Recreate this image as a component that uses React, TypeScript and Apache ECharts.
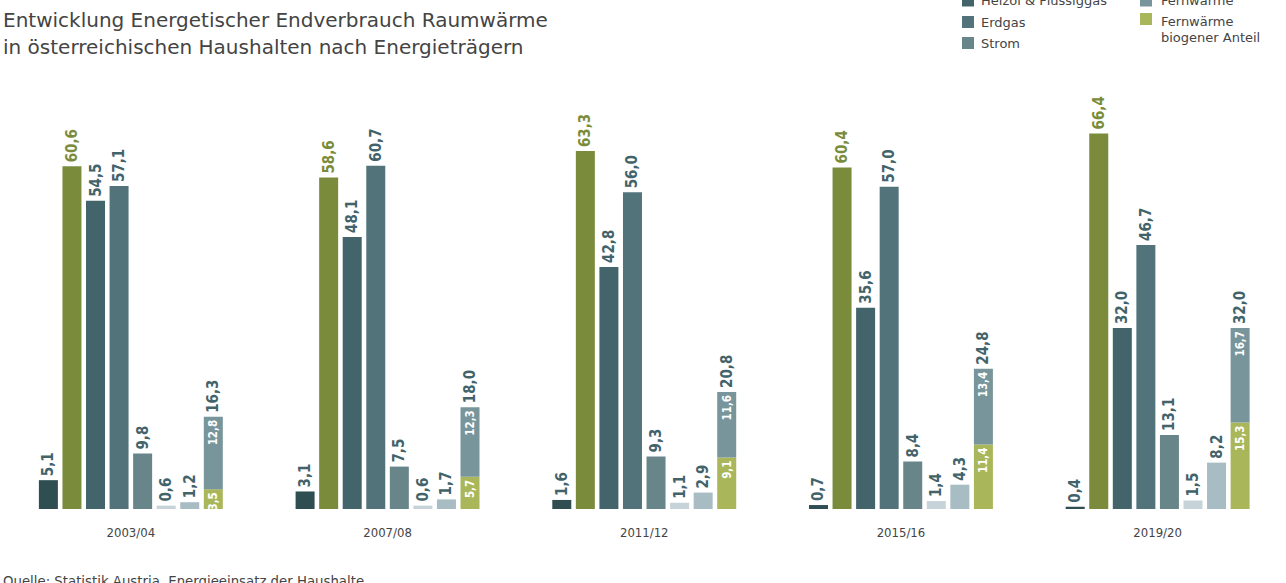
import React, { useEffect, useRef } from 'react';
import * as echarts from 'echarts';

const categories = ['2003/04', '2007/08', '2011/12', '2015/16', '2019/20'];
const kohle = [5.1, 3.1, 1.6, 0.7, 0.4];
const holz = [60.6, 58.6, 63.3, 60.4, 66.4];
const heizoel = [54.5, 48.1, 42.8, 35.6, 32.0];
const erdgas = [57.1, 60.7, 56.0, 57.0, 46.7];
const strom = [9.8, 7.5, 9.3, 8.4, 13.1];
const solar = [0.6, 0.6, 1.1, 1.4, 1.5];
const umgebung = [1.2, 1.7, 2.9, 4.3, 8.2];
const fwBiogen = [3.5, 5.7, 9.1, 11.4, 15.3];
const fwRest = [12.8, 12.3, 11.6, 13.4, 16.7];
const fwTotal = [16.3, 18.0, 20.8, 24.8, 32.0];

const titleLines = [
  'Entwicklung Energetischer Endverbrauch Raumwärme',
  'in österreichischen Haushalten nach Energieträgern',
];
const sourceText = 'Quelle: Statistik Austria, Energieeinsatz der Haushalte';

const C = {
  kohle: '#2f4e52',
  holz: '#7a8c3b',
  heizoel: '#42646a',
  erdgas: '#52737a',
  strom: '#688589',
  solar: '#c6d3d8',
  umgebung: '#a7bcc3',
  fw: '#77959a',
  fwBio: '#a9b75a',
};
const LABEL_DARK = '#42636a';
const NUM_FONT = '"DejaVu Sans Condensed", sans-serif';
const TEXT_FONT = '"DejaVu Sans", sans-serif';

const fmt = (v: number) => v.toFixed(1).replace('.', ',');

function barSeries(name: string, data: number[], color: string, labelColor: string) {
  return {
    name,
    type: 'bar',
    data,
    barWidth: 19,
    barGap: '24%',
    itemStyle: { color },
    label: {
      show: true,
      position: 'top',
      rotate: 90,
      align: 'left',
      verticalAlign: 'middle',
      distance: 4,
      color: labelColor,
      fontFamily: NUM_FONT,
      fontWeight: 'bold',
      fontSize: 15,
      formatter: (p: any) => fmt(p.value),
    },
  };
}

const innerLabel = {
  show: true,
  position: 'insideTop',
  rotate: 90,
  align: 'right',
  verticalAlign: 'middle',
  distance: 3,
  color: '#ffffff',
  fontFamily: NUM_FONT,
  fontWeight: 'bold',
  fontSize: 11.5,
  formatter: (p: any) => fmt(p.value),
};

export default function App() {
  const ref = useRef<HTMLDivElement>(null);
  useEffect(() => {
    document.body.style.margin = '0';
    if (!ref.current) return;
    const chart = echarts.init(ref.current, undefined, { renderer: 'svg' });
    const legendText = (text: string, x: number, y: number) => ({
      type: 'text',
      style: { text, x, y, fill: '#444', fontSize: 13, fontFamily: TEXT_FONT, verticalAlign: 'middle' },
    });
    const legendRect = (x: number, y: number, color: string) => ({
      type: 'rect',
      shape: { x, y, width: 12, height: 12 },
      style: { fill: color },
    });
    chart.setOption({
      animation: false,
      grid: { left: 2.5, width: 1285, top: 56.6, height: 452.4 },
      xAxis: {
        type: 'category',
        data: categories,
        axisLine: { show: false },
        axisTick: { show: false },
        axisLabel: { margin: 17, color: '#444', fontSize: 13, fontFamily: '"DejaVu Sans Condensed", sans-serif' },
      },
      yAxis: { type: 'value', min: 0, max: 80, show: false, splitLine: { show: false } },
      series: [
        barSeries('Kohle', kohle, C.kohle, LABEL_DARK),
        barSeries('Holz', holz, C.holz, C.holz),
        barSeries('Heizöl & Flüssiggas', heizoel, C.heizoel, LABEL_DARK),
        barSeries('Erdgas', erdgas, C.erdgas, LABEL_DARK),
        barSeries('Strom', strom, C.strom, LABEL_DARK),
        barSeries('Solarwärme', solar, C.solar, LABEL_DARK),
        barSeries('Umgebungswärme', umgebung, C.umgebung, LABEL_DARK),
        {
          name: 'Fernwärme biogener Anteil',
          type: 'bar',
          stack: 'fw',
          data: fwBiogen,
          barWidth: 19,
          barGap: '24%',
          itemStyle: { color: C.fwBio },
          label: innerLabel,
        },
        {
          name: 'Fernwärme',
          type: 'bar',
          stack: 'fw',
          data: fwRest,
          barWidth: 19,
          barGap: '24%',
          itemStyle: { color: C.fw },
          label: innerLabel,
        },
        {
          name: 'Fernwärme gesamt',
          type: 'bar',
          stack: 'fw',
          data: fwTotal.map(() => 0),
          barWidth: 19,
          barGap: '24%',
          itemStyle: { color: C.fw },
          label: {
            show: true,
            position: 'top',
            rotate: 90,
            align: 'left',
            verticalAlign: 'middle',
            distance: 4,
            color: LABEL_DARK,
            fontFamily: NUM_FONT,
            fontWeight: 'bold',
            fontSize: 15,
            formatter: (p: any) => fmt(fwTotal[p.dataIndex]),
          },
        },
      ],
      graphic: [
        {
          type: 'text',
          style: { text: titleLines[0], x: 3, y: 20, fill: '#444', fontSize: 20, fontFamily: TEXT_FONT, verticalAlign: 'middle' },
        },
        {
          type: 'text',
          style: { text: titleLines[1], x: 3, y: 47, fill: '#444', fontSize: 20, fontFamily: TEXT_FONT, verticalAlign: 'middle' },
        },
        legendRect(962, -5.5, C.heizoel),
        legendText('Heizöl & Flüssiggas', 981, 0.5),
        legendRect(962, 16, C.erdgas),
        legendText('Erdgas', 981, 22),
        legendRect(962, 37, C.strom),
        legendText('Strom', 981, 43.5),
        legendRect(1140, -5.5, C.fw),
        legendText('Fernwärme', 1161, 0.5),
        legendRect(1140, 13, C.fwBio),
        legendText('Fernwärme', 1161, 21),
        legendText('biogener Anteil', 1161, 37.5),
        {
          type: 'text',
          style: { text: sourceText, x: 3, y: 581, fill: '#444', fontSize: 13.3, fontFamily: TEXT_FONT, verticalAlign: 'middle' },
        },
      ],
    });
    return () => chart.dispose();
  }, []);
  return <div ref={ref} style={{ width: 1286, height: 583 }} />;
}
